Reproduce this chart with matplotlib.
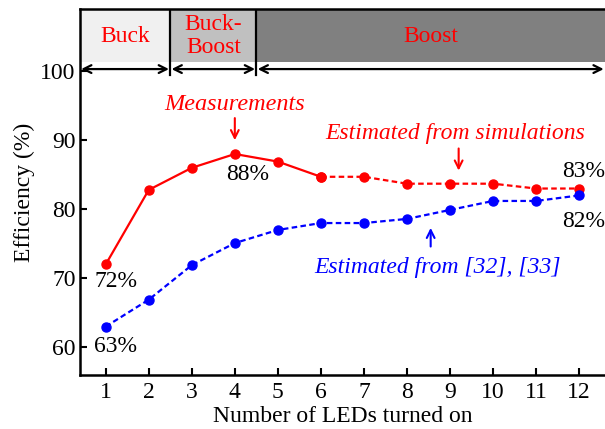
import matplotlib
matplotlib.use('Agg')
import matplotlib.pyplot as plt
from matplotlib.patches import Rectangle

plt.rcParams['font.family'] = 'serif'
plt.rcParams['font.serif'] = ['Liberation Serif']

# efficiency vs number of LEDs turned on
leds = [1, 2, 3, 4, 5, 6, 7, 8, 9, 10, 11, 12]
measured = [72, 82.8, 86.0, 88, 86.9, 84.7]            # LEDs 1-6
simulated = [84.7, 84.7, 83.7, 83.7, 83.7, 83.0, 83]   # LEDs 6-12
literature = [63, 66.9, 71.9, 75.1, 77.0, 78.0, 78.0, 78.6, 79.9, 81.2, 81.2, 82]

modes = ['Buck', 'Buck-\nBoost', 'Boost']
mode_edges = [0.4, 2.5, 4.5, 12.6]
mode_colors = ['#f0f0f0', '#c0c0c0', '#808080']

fig = plt.figure(figsize=(6.05, 4.29), dpi=100)
ax = fig.add_axes([0.132, 0.126, 0.868, 0.853])
ax.set_xlim(0.4, 12.6)
ax.set_ylim(56, 109)

red = '#ff0000'
blue = '#0000ff'
ax.plot(leds[:6], measured, color=red, lw=1.6, marker='o', ms=6.5, zorder=3)
ax.plot(leds[5:], simulated, color=red, lw=1.6, ls=(0, (2.5, 1.5)), marker='o', ms=6.5, zorder=3)
ax.plot(leds, literature, color=blue, lw=1.6, ls=(0, (2.5, 1.5)), marker='o', ms=6.5, zorder=3)

# operating mode bands on top
band_lo, band_hi = 101.3, 109
for i, name in enumerate(modes):
    x0, x1 = mode_edges[i], mode_edges[i + 1]
    ax.add_patch(Rectangle((x0, band_lo), x1 - x0, band_hi - band_lo,
                           facecolor=mode_colors[i], edgecolor='none', zorder=1))
    ax.text((x0 + x1) / 2, (band_lo + band_hi) / 2 - 0.1, name, color=red,
            fontsize=17, ha='center', va='center', linespacing=1.1)
    ax.annotate('', xy=(x0 + 0.03, 100.3), xytext=(x1 - 0.03, 100.3),
                arrowprops=dict(arrowstyle='<->', lw=1.6, color='black',
                                mutation_scale=14, shrinkA=0, shrinkB=0))
for xb in mode_edges[1:3]:
    ax.plot([xb, xb], [99.4, band_hi], color='black', lw=1.6, zorder=2)

# annotations
ax.text(4, 95.2, 'Measurements', color=red, style='italic', fontsize=17.5, ha='center', va='center')
ax.annotate('', xy=(4, 90.0), xytext=(4, 93.2),
            arrowprops=dict(arrowstyle='->', color=red, lw=1.5, mutation_scale=14, shrinkA=0, shrinkB=0))
ax.text(9.12, 91.0, 'Estimated from simulations', color=red, style='italic', fontsize=17, ha='center', va='center')
ax.annotate('', xy=(9.2, 85.6), xytext=(9.2, 88.8),
            arrowprops=dict(arrowstyle='->', color=red, lw=1.5, mutation_scale=14, shrinkA=0, shrinkB=0))
ax.text(8.7, 71.6, 'Estimated from [32], [33]', color=blue, style='italic', fontsize=17, ha='center', va='center')
ax.annotate('', xy=(8.55, 77.3), xytext=(8.55, 74.6),
            arrowprops=dict(arrowstyle='->', color=blue, lw=1.5, mutation_scale=14, shrinkA=0, shrinkB=0))

ax.text(1.23, 69.6, '72%', fontsize=17, ha='center', va='center')
ax.text(1.23, 60.1, '63%', fontsize=17, ha='center', va='center')
ax.text(4.3, 85.0, '88%', fontsize=17, ha='center', va='center')
ax.text(12.1, 85.5, '83%', fontsize=17, ha='center', va='center')
ax.text(12.1, 78.2, '82%', fontsize=17, ha='center', va='center')

ax.set_xticks(leds)
ax.set_yticks([60, 70, 80, 90, 100])
ax.tick_params(direction='in', length=5, width=1.5, labelsize=17, pad=5)
ax.tick_params(axis='y', pad=3)
ax.set_xlabel('Number of LEDs turned on', fontsize=17, labelpad=2)
ax.set_ylabel('Efficiency (%)', fontsize=17, labelpad=4)

ax.spines['right'].set_visible(False)
for s in ['left', 'bottom', 'top']:
    ax.spines[s].set_linewidth(1.8)

fig.savefig('out.png', dpi=100)
